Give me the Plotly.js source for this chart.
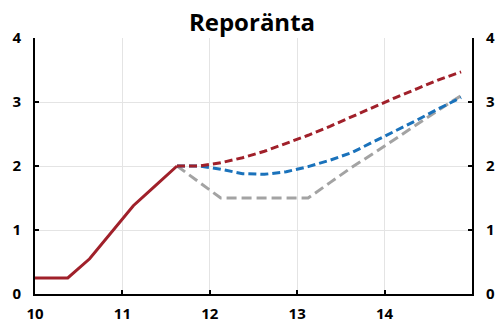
<!DOCTYPE html>
<html>
<head>
<meta charset="utf-8">
<script src="https://cdn.plot.ly/plotly-3.0.1.min.js"></script>
<style>
  html, body { margin: 0; padding: 0; background: #fff; }
  #chart { width: 499px; height: 325px; }
</style>
</head>
<body>
<div id="chart"></div>
<script>
// Repo rate: outcome and three forecast paths (quarterly, per cent)
const outcomeX = [10.0, 10.375, 10.625, 10.875, 11.125, 11.375, 11.625];
const outcomeY = [0.25, 0.25, 0.55, 0.97, 1.38, 1.69, 2.0];

const forecastX = [11.625, 11.875, 12.125, 12.375, 12.625, 12.875, 13.125,
                   13.375, 13.625, 13.875, 14.125, 14.375, 14.625, 14.875];
const redPath  = [2.0, 2.0, 2.05, 2.13, 2.23, 2.35, 2.48, 2.62, 2.77, 2.93, 3.07, 3.21, 3.35, 3.47];
const bluePath = [2.0, 2.0, 1.95, 1.88, 1.87, 1.91, 1.99, 2.09, 2.21, 2.38, 2.54, 2.72, 2.90, 3.07];
const grayPath = [2.0, 1.75, 1.5, 1.5, 1.5, 1.5, 1.5, 1.74, 1.98, 2.20, 2.43, 2.66, 2.88, 3.10];

const xTicks = [10, 11, 12, 13, 14];
const yTicks = [0, 1, 2, 3, 4];

const RED = '#A0202A', BLUE = '#1A72BB', GRAY = '#A3A3A3';
const FONT = 'Open Sans, Noto Sans, sans-serif';

const traces = [
  { x: forecastX, y: grayPath, mode: 'lines', line: { color: GRAY, width: 3, dash: '10px,5px' } },
  { x: forecastX, y: bluePath, mode: 'lines', line: { color: BLUE, width: 3, dash: '8px,4px' } },
  { x: forecastX, y: redPath,  mode: 'lines', line: { color: RED,  width: 3, dash: '8px,4px' } },
  { x: outcomeX,  y: outcomeY, mode: 'lines', line: { color: RED,  width: 3 } },
  // same outcome series bound to the right-hand axis so its labels render
  { x: outcomeX,  y: outcomeY, yaxis: 'y2', mode: 'lines', opacity: 0, hoverinfo: 'skip',
    line: { color: RED, width: 0 } }
];

const yCommon = {
  range: [0, 4], tickvals: yTicks, ticktext: yTicks.map(String),
  ticks: 'inside', ticklen: 4, tickwidth: 2, tickcolor: '#000',
  showline: true, linecolor: '#000', linewidth: 2, zeroline: false,
  tickfont: { family: FONT, size: 15, color: '#000', weight: 'bold' },
  fixedrange: true
};

const layout = {
  width: 499, height: 325,
  margin: { l: 35, r: 27, t: 38, b: 31, pad: 0 },
  paper_bgcolor: '#fff', plot_bgcolor: '#fff',
  showlegend: false,
  title: {
    text: '<b>Reporänta</b>',
    x: 0.505, xanchor: 'center', y: 0.93, yanchor: 'middle',
    font: { family: FONT, size: 24, color: '#000' }
  },
  xaxis: {
    range: [10, 15], tickvals: xTicks, ticktext: xTicks.map(String),
    ticks: 'inside', ticklen: 4, tickwidth: 2, tickcolor: '#000',
    showline: true, linecolor: '#000', linewidth: 2, zeroline: false,
    showgrid: true, gridcolor: '#E4E4E4', gridwidth: 1,
    ticklabelstandoff: 5,
    tickfont: { family: FONT, size: 15, color: '#000', weight: 'bold' },
    fixedrange: true
  },
  yaxis: Object.assign({}, yCommon, {
    side: 'left', showgrid: true, gridcolor: '#E4E4E4', gridwidth: 1,
    ticklabelstandoff: 9
  }),
  yaxis2: Object.assign({}, yCommon, {
    side: 'right', overlaying: 'y', showgrid: false,
    ticklabelstandoff: 9
  })
};

Plotly.newPlot('chart', traces, layout, { displayModeBar: false, staticPlot: true });
</script>
</body>
</html>
